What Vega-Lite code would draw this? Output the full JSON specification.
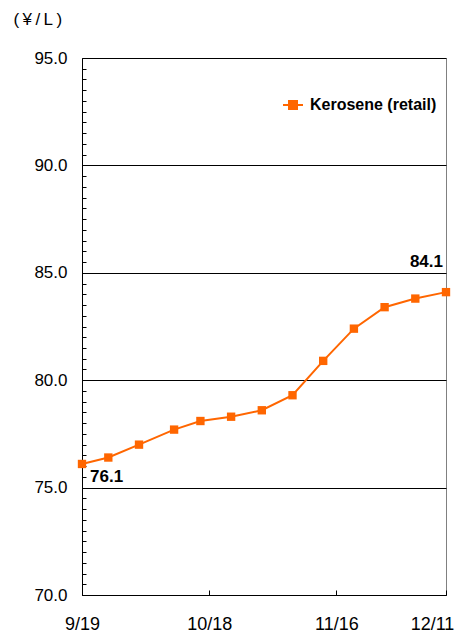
{
  "$schema": "https://vega.github.io/schema/vega-lite/v6.json",
  "width": 364,
  "height": 537,
  "autosize": {"type": "none"},
  "padding": {"left": 82, "top": 58, "right": 18, "bottom": 37},
  "background": "white",
  "config": {
    "font": "Liberation Sans",
    "view": {"stroke": "#808080", "strokeWidth": 1},
    "axis": {"domainColor": "black", "domainWidth": 1, "labelColor": "black", "titleColor": "black"}
  },
  "data": {
    "values": [
      {"date": "2023/09/19", "price": 76.1},
      {"date": "2023/09/25", "price": 76.4},
      {"date": "2023/10/02", "price": 77.0},
      {"date": "2023/10/10", "price": 77.7},
      {"date": "2023/10/16", "price": 78.1},
      {"date": "2023/10/23", "price": 78.3},
      {"date": "2023/10/30", "price": 78.6},
      {"date": "2023/11/06", "price": 79.3},
      {"date": "2023/11/13", "price": 80.9},
      {"date": "2023/11/20", "price": 82.4},
      {"date": "2023/11/27", "price": 83.4},
      {"date": "2023/12/04", "price": 83.8},
      {"date": "2023/12/11", "price": 84.1}
    ]
  },
  "encoding": {
    "x": {
      "field": "date",
      "type": "temporal",
      "scale": {
        "domain": [{"year": 2023, "month": 9, "date": 19}, {"year": 2023, "month": 12, "date": 11}],
        "nice": false
      },
      "axis": {
        "title": null,
        "values": [
          {"year": 2023, "month": 9, "date": 19},
          {"year": 2023, "month": 10, "date": 18},
          {"year": 2023, "month": 11, "date": 16},
          {"year": 2023, "month": 12, "date": 11}
        ],
        "format": "%-m/%-d",
        "grid": false,
        "ticks": true,
        "tickSize": -5,
        "tickWidth": 1,
        "tickColor": "black",
        "labelFlush": false,
        "labelOverlap": false,
        "labelPadding": 25,
        "labelFontSize": 18,
        "labelOffset": {"condition": {"test": "month(datum.value) == 11", "value": -14}, "value": 0}
      }
    },
    "y": {
      "field": "price",
      "type": "quantitative",
      "scale": {"domain": [70, 95], "nice": false, "zero": false},
      "axis": {
        "title": "(\u2009¥\u2009/\u2009L\u2009)",
        "titleAngle": 0,
        "titleAlign": "left",
        "titleBaseline": "middle",
        "titleX": -69,
        "titleY": -39,
        "titleFontWeight": "normal",
        "titleFontSize": 17,
        "values": [70, 70.5, 71, 71.5, 72, 72.5, 73, 73.5, 74, 74.5, 75, 75.5, 76, 76.5, 77, 77.5, 78, 78.5, 79, 79.5, 80, 80.5, 81, 81.5, 82, 82.5, 83, 83.5, 84, 84.5, 85, 85.5, 86, 86.5, 87, 87.5, 88, 88.5, 89, 89.5, 90, 90.5, 91, 91.5, 92, 92.5, 93, 93.5, 94, 94.5, 95],
        "labelExpr": "datum.value % 5 === 0 ? format(datum.value, '.1f') : ''",
        "labelOverlap": false,
        "labelPadding": 19,
        "labelFontSize": 17,
        "ticks": true,
        "tickSize": -4,
        "tickWidth": 1,
        "tickColor": "black",
        "grid": true,
        "gridColor": "black",
        "gridOpacity": {"condition": {"test": "datum.value % 5 === 0", "value": 1}, "value": 0}
      }
    }
  },
  "layer": [
    {
      "mark": {
        "type": "line",
        "strokeWidth": 2,
        "point": {"shape": "square", "size": 70, "filled": true, "opacity": 1}
      },
      "encoding": {
        "color": {
          "datum": "Kerosene (retail)",
          "scale": {"range": ["#FF6600"]},
          "legend": {
            "orient": "none",
            "legendX": 200,
            "legendY": 36,
            "title": null,
            "labelFontSize": 16,
            "labelFontWeight": "bold",
            "labelColor": "black",
            "labelOffset": 6,
            "symbolType": "M-1,0H1M-0.4,-0.4H0.4V0.4H-0.4Z",
            "symbolSize": 400,
            "symbolStrokeWidth": 2,
            "symbolStrokeColor": "#FF6600",
            "symbolFillColor": "#FF6600",
            "encode": {"symbols": {"update": {"fill": {"value": "#FF6600"}, "stroke": {"value": "#FF6600"}}}}
          }
        }
      }
    },
    {
      "transform": [{"filter": {"field": "date", "equal": {"year": 2023, "month": 9, "date": 19}}}],
      "mark": {"type": "text", "align": "left", "baseline": "middle", "dx": 8, "dy": 13, "fontWeight": "bold", "fontSize": 17, "color": "black"},
      "encoding": {"text": {"field": "price", "type": "quantitative", "format": ".1f"}}
    },
    {
      "transform": [{"filter": {"field": "date", "equal": {"year": 2023, "month": 12, "date": 11}}}],
      "mark": {"type": "text", "align": "right", "baseline": "middle", "dx": -3, "dy": -30, "fontWeight": "bold", "fontSize": 17, "color": "black"},
      "encoding": {"text": {"field": "price", "type": "quantitative", "format": ".1f"}}
    }
  ]
}
